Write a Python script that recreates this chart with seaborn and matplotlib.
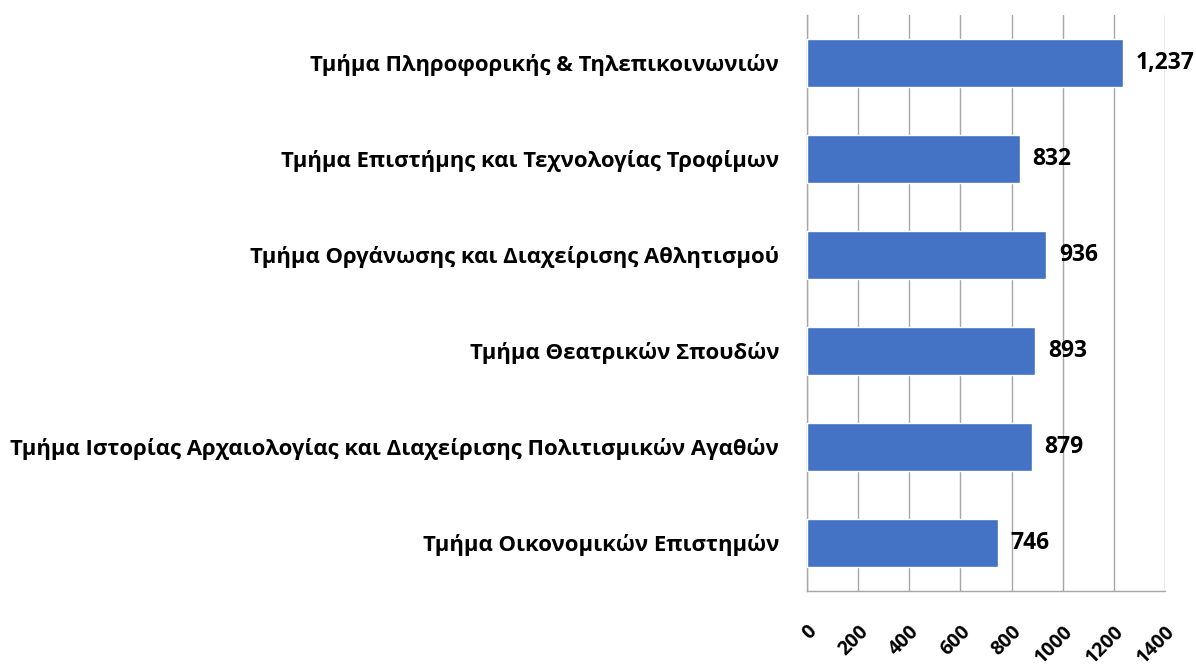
import matplotlib
matplotlib.use("Agg")
import matplotlib.pyplot as plt
import seaborn as sns
import pandas as pd

departments = [
    "Τμήμα Πληροφορικής & Τηλεπικοινωνιών",
    "Τμήμα Επιστήμης και Τεχνολογίας Τροφίμων",
    "Τμήμα Οργάνωσης και Διαχείρισης Αθλητισμού",
    "Τμήμα Θεατρικών Σπουδών",
    "Τμήμα Ιστορίας Αρχαιολογίας και Διαχείρισης Πολιτισμικών Αγαθών",
    "Τμήμα Οικονομικών Επιστημών",
]
values = [1237, 832, 936, 893, 879, 746]
x_ticks = [0, 200, 400, 600, 800, 1000, 1200, 1400]

df = pd.DataFrame({"dept": departments, "value": values})

sns.set_theme(style="white")
plt.rcParams["font.family"] = ["Open Sans", "DejaVu Sans"]

fig = plt.figure(figsize=(11.96, 6.69), dpi=100)
ax = fig.add_axes([807 / 1196, 1 - 591 / 669, (1165 - 807) / 1196, (591 - 15) / 669])

sns.barplot(data=df, x="value", y="dept", orient="h", color="#4472C4",
            saturation=1, width=0.5, ax=ax, zorder=3)

ax.set_xlim(0, 1400)
ax.set_ylim(len(departments) - 0.5, -0.5)
ax.set_xticks(x_ticks)
ax.set_xticklabels([str(t) for t in x_ticks], rotation=45, ha="right",
                   rotation_mode="anchor", fontsize=14, fontweight="bold", color="black")
ax.set_yticks(range(len(departments)))
ax.set_yticklabels(departments, fontsize=15.9, fontweight="bold", color="black")
ax.set_yticks([i - 0.5 for i in range(len(departments) + 1)], minor=True)
ax.tick_params(axis="y", which="major", length=0, pad=20)
ax.tick_params(axis="y", which="minor", length=7, width=1, color="#A6A6A6", direction="out")
ax.tick_params(axis="x", which="major", length=7, width=1, color="#A6A6A6", direction="out", pad=15)
ax.set_xlabel("")
ax.set_ylabel("")

ax.grid(axis="x", color="#A6A6A6", linewidth=1, zorder=0)
ax.set_axisbelow(True)
for s in ["top", "right"]:
    ax.spines[s].set_visible(False)
for s in ["left", "bottom"]:
    ax.spines[s].set_color("#A6A6A6")
    ax.spines[s].set_linewidth(1)

for i, v in enumerate(values):
    ax.annotate(f"{v:,}", xy=(v, i), xytext=(9, 0), textcoords="offset points",
                va="center", ha="left", fontsize=16.5, fontweight="bold", color="black")

fig.savefig("out.png", dpi=100)
